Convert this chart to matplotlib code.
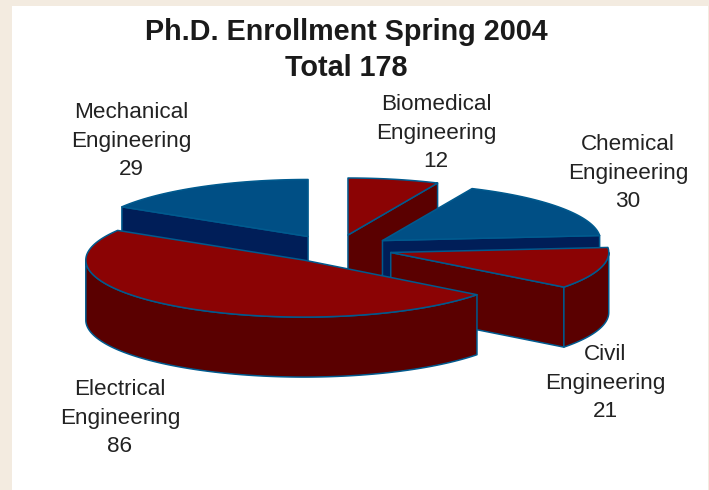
import numpy as np
import matplotlib
matplotlib.use("Agg")
import matplotlib.pyplot as plt
from matplotlib.patches import Polygon, Rectangle

departments = ["Biomedical", "Chemical", "Civil", "Electrical", "Mechanical"]
enrollment = [12, 30, 21, 86, 29]
title = "Ph.D. Enrollment Spring 2004\nTotal 178"

TOP = {"red": "#8B0304", "blue": "#004F85"}
SIDE = {"red": "#5A0000", "blue": "#001E58"}
slice_tone = ["red", "blue", "red", "red", "blue"]
EDGE = "#005A8E"
label_xy = [(436, 133), (628, 173), (605, 383), (120, 418), (131, 141)]

CX, CY, RX, RY, DEPTH = 336.0, 248.6, 218.0, 57.0, 60.0
EXPLODE_X, EXPLODE_Y = 57.0, 13.9

fig = plt.figure(figsize=(7.09, 4.9), dpi=100, facecolor="#F3EBE0")
ax = fig.add_axes([0, 0, 1, 1])
ax.set_xlim(0, 709)
ax.set_ylim(490, 0)
ax.axis("off")
ax.add_patch(Rectangle((12, 6), 696, 490, facecolor="white", edgecolor="none", zorder=0))


def rim(cx, cy, a, b, dy=0.0):
    t = np.radians(np.linspace(a, b, max(3, int(abs(b - a) * 2))))
    return np.column_stack([cx + RX * np.sin(t), cy - RY * np.cos(t) + dy])


def face(points, color, z):
    ax.add_patch(Polygon(points, closed=True, facecolor=color, edgecolor=EDGE,
                         linewidth=1.1, joinstyle="round", zorder=z))


total = sum(enrollment)
edges = np.concatenate([[0], np.cumsum(enrollment)]) / total * 360
draw_order = [4, 0, 1, 2, 3]
for z, i in enumerate(draw_order, start=1):
    a, b = edges[i], edges[i + 1]
    mid = np.radians((a + b) / 2)
    cx = CX + EXPLODE_X * np.sin(mid)
    cy = CY - EXPLODE_Y * np.cos(mid)
    top_c, side_c = TOP[slice_tone[i]], SIDE[slice_tone[i]]
    apex = np.array([[cx, cy]])
    apex_low = np.array([[cx, cy + DEPTH]])

    # radial walls facing the viewer
    if np.sin(np.radians(a)) < -1e-6:
        p = rim(cx, cy, a, a, 0)[:1]
        face(np.vstack([apex, p, p + [0, DEPTH], apex_low]), side_c, z)
    if np.sin(np.radians(b)) > 1e-6:
        p = rim(cx, cy, b, b, 0)[:1]
        face(np.vstack([apex, p, p + [0, DEPTH], apex_low]), side_c, z)

    # outer wall, front half of the rim only
    lo, hi = max(a, 90), min(b, 270)
    if hi > lo:
        face(np.vstack([rim(cx, cy, lo, hi), rim(cx, cy, hi, lo, DEPTH)]), side_c, z)

    # top surface
    face(np.vstack([apex, rim(cx, cy, a, b)]), top_c, z)

font = ["Liberation Sans", "DejaVu Sans"]
ax.text(346, 50, title, ha="center", va="center", fontsize=20.7, fontweight="bold",
        family=font, color="#1A1A1A", linespacing=1.36, zorder=10)
for name, n, (x, y) in zip(departments, enrollment, label_xy):
    ax.text(x, y, f"{name}\nEngineering\n{n}", ha="center", va="center", fontsize=16.2,
            family=font, color="#222222", linespacing=1.47, zorder=10)

fig.savefig("out.png", dpi=100, facecolor=fig.get_facecolor())
